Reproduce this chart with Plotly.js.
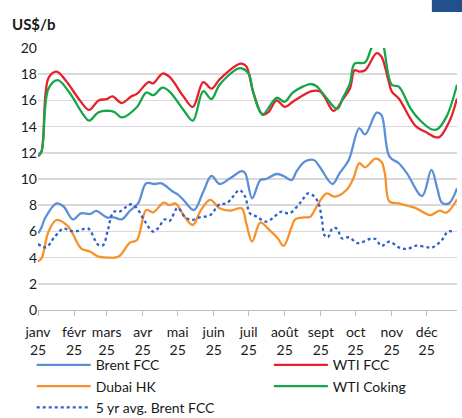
<!DOCTYPE html>
<html>
<head>
<meta charset="utf-8">
<script src="https://cdn.plot.ly/plotly-3.0.1.min.js"></script>
<style>
html,body{margin:0;padding:0;background:#fff;}
#chart{width:462px;height:418px;}
</style>
</head>
<body>
<div id="chart"></div>
<script>
// Day offsets from 1 Jan 2025 and values (US$/b)
const brentFccDay = [0,3,6,16,22,30,37,45,50,59,65,72,79,86,93,100,106,116,120,125,134,142,149,156,165,175,178,184,191,196,205,211,218,222,229,237,242,253,259,267,276,281,291,295,302,310,317,330,338,343,347,353,360];
const brentFcc    = [5.85,6.3,7.0,8.14,7.9,6.92,7.38,7.33,7.56,7.07,7.07,6.92,7.58,8.14,9.67,9.62,9.67,9.03,8.83,8.4,7.63,9.03,10.23,9.62,10.05,10.6,10.45,8.53,9.92,10.0,10.38,10.23,9.92,10.56,11.32,11.45,10.94,9.62,10.43,11.45,13.87,13.4,15.06,14.9,11.7,11.2,10.43,8.7,10.69,9.3,8.2,8.14,9.29];

const wtiFccDay = [0,3,9,16,24,36,44,52,59,64,72,80,85,95,99,107,113,125,133,142,149,156,171,175,179,185,193,198,205,212,219,235,242,246,254,262,268,272,276,281,291,295,301,304,310,320,325,335,341,345,354,360];
const wtiFcc    = [11.75,12.1,17.7,18.2,17.5,16.0,15.27,16.0,16.1,16.3,15.8,16.3,16.5,17.4,17.3,18.05,17.8,16.3,15.5,17.4,16.9,17.6,18.7,18.8,18.6,16.6,14.9,15.1,16.0,15.5,15.9,16.7,16.7,16.3,15.2,16.1,16.9,18.3,18.2,18.3,19.6,19.35,17.56,16.67,16.15,14.6,14.0,13.5,13.2,13.2,14.5,16.15];

const dubaiHkDay = [0,3,9,16,26,37,45,52,62,65,70,79,85,93,99,108,113,118,126,133,140,148,156,165,175,179,184,191,199,206,211,218,221,229,234,238,241,248,255,265,271,276,281,290,295,298,302,310,318,325,337,345,351,360];
const dubaiHk    = [3.72,3.94,5.98,6.87,6.36,4.71,4.45,4.07,4.0,3.99,4.12,5.14,5.34,7.63,7.46,8.19,8.0,8.14,7.12,6.49,7.63,8.4,7.76,7.58,7.76,6.6,5.22,6.67,6.1,5.47,4.89,6.36,6.92,7.07,7.12,7.68,8.14,8.9,8.65,9.16,10.05,11.2,10.89,11.55,11.32,10.43,8.27,8.14,7.94,7.76,7.25,7.58,7.43,8.45];

const wtiCokingDay = [0,3,9,17,27,39,44,52,62,66,72,85,93,99,107,113,125,133,142,149,156,171,175,181,185,193,205,212,219,234,239,246,257,262,268,272,281,287,294,297,304,310,320,328,338,343,351,360];
const wtiCoking    = [11.75,12.1,16.9,17.55,16.6,14.9,14.45,15.1,15.2,15.1,14.7,15.5,16.6,16.4,16.97,16.67,15.27,14.45,16.7,16.1,17.2,18.4,18.45,18.05,16.6,14.95,16.2,15.9,16.6,17.25,17.1,16.4,15.35,16.2,17.3,18.8,18.9,20.1,20.9,20.1,17.2,17.05,15.4,14.5,13.8,13.8,14.76,17.2];

const avg5yDay = [0,7,14,22,27,34,43,49,52,56,60,65,70,76,80,85,92,99,103,109,113,120,126,132,139,148,156,162,168,173,178,182,188,196,203,209,216,226,232,237,241,244,246,249,253,257,261,267,275,285,290,295,302,310,317,325,335,339,347,352,357];
const avg5y    = [5.04,4.78,5.55,6.23,6.05,6.03,6.23,5.34,4.96,4.96,6.1,7.5,7.5,7.89,8.07,7.76,6.74,5.98,6.23,6.92,6.8,7.8,7.12,6.87,7.07,7.25,8.07,8.14,8.7,9.16,8.65,7.38,7.12,6.74,7.12,7.5,7.38,8.27,8.9,8.7,8.14,6.87,5.73,5.55,6.23,6.2,5.47,5.55,5.1,5.42,5.42,4.89,5.22,4.78,4.66,4.91,4.78,4.78,5.34,5.98,5.98];

const monthTicks  = ['2025-01-01','2025-02-01','2025-03-01','2025-04-01','2025-05-01','2025-06-01','2025-07-01','2025-08-01','2025-09-01','2025-10-01','2025-11-01','2025-12-01'];
const monthLabels = ['janv<br>25','févr<br>25','mars<br>25','avr<br>25','mai<br>25','juin<br>25','juil<br>25','août<br>25','sept<br>25','oct<br>25','nov<br>25','déc<br>25'];

function dayToDate(d){
  return new Date(Date.UTC(2025,0,1) + d*86400000).toISOString().slice(0,10);
}

function line(name, days, vals, color, dash, legendId){
  return {
    type:'scatter', mode:'lines', name:name, legend:legendId,
    x: days.map(dayToDate), y: vals,
    line:{color:color, width:2.3, shape:'spline', smoothing:1, dash:dash||'solid'},
    hoverinfo:'skip'
  };
}

const traces = [
  line('Brent FCC', brentFccDay, brentFcc, '#5B8FD8', 'solid', 'legend'),
  line('WTI FCC', wtiFccDay, wtiFcc, '#E8202C', 'solid', 'legend2'),
  line('Dubai HK', dubaiHkDay, dubaiHk, '#F7922A', 'solid', 'legend'),
  line('WTI Coking', wtiCokingDay, wtiCoking, '#17A54A', 'solid', 'legend2'),
  line('5 yr avg. Brent FCC', avg5yDay, avg5y, '#2E60D0', 'dot', 'legend')
];

const font = {family:'Lato, "Open Sans", sans-serif', size:14, color:'#1a1a1a'};

const legendBase = {
  orientation:'v', yanchor:'top', xanchor:'left', y:-0.15,
  font:font, tracegroupgap:0, itemwidth:54, traceorder:'normal',
  bgcolor:'rgba(0,0,0,0)'
};

const layout = {
  width:462, height:418,
  margin:{l:38, r:5, t:48, b:108, autoexpand:false},
  paper_bgcolor:'#fff', plot_bgcolor:'#fff',
  font:font,
  showlegend:true,
  xaxis:{
    type:'date',
    range:['2025-01-01','2025-12-27'],
    tickvals:monthTicks, ticktext:monthLabels,
    ticks:'outside', ticklen:5, tickcolor:'#bfbfbf', tickwidth:1,
    ticklabelstandoff:4,
    showgrid:false, showline:true, linecolor:'#bfbfbf', linewidth:1,
    zeroline:false, tickfont:font, fixedrange:true
  },
  yaxis:{
    range:[0,20], dtick:2, tick0:0,
    showgrid:true, gridcolor:'#d9d9d9', gridwidth:1.5,
    zeroline:false, showline:false, ticks:'', tickfont:font,
    fixedrange:true
  },
  legend: Object.assign({}, legendBase, {x:-0.015}),
  legend2: Object.assign({}, legendBase, {x:0.551}),
  annotations:[{
    text:'<b>US$/b</b>', xref:'paper', yref:'paper',
    x:-0.067, y:1.09, xanchor:'left', yanchor:'middle',
    showarrow:false, font:{family:font.family, size:15, color:'#1a1a1a'}
  }],
  shapes:[{
    type:'rect', xref:'paper', yref:'paper',
    x0:0.94, x1:1.02, y0:1.137, y1:1.2,
    fillcolor:'#21508A', line:{width:0}
  }]
};

Plotly.newPlot('chart', traces, layout, {displayModeBar:false, staticPlot:true});
</script>
</body>
</html>
